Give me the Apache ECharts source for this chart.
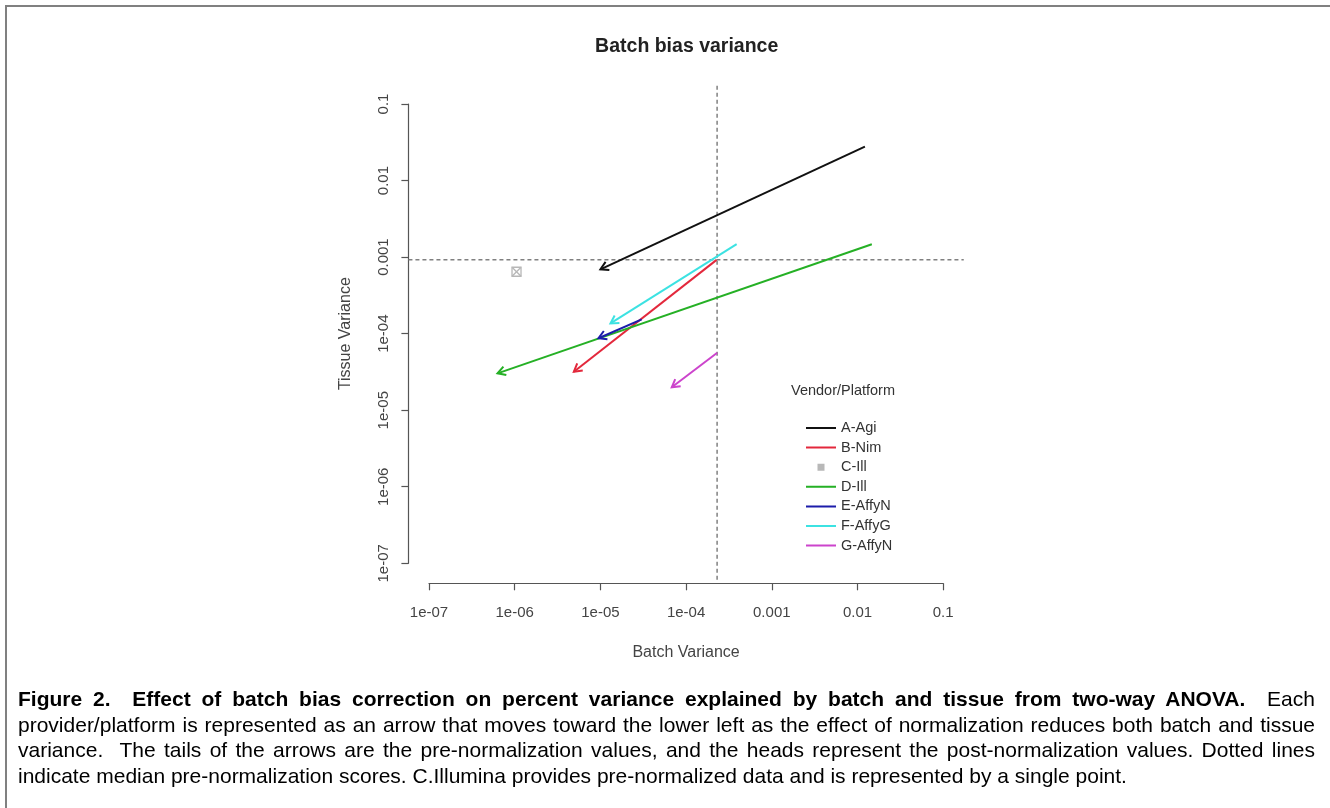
<!DOCTYPE html>
<html>
<head>
<meta charset="utf-8">
<title>Batch bias variance</title>
<script src="https://cdn.jsdelivr.net/npm/echarts@6/dist/echarts.min.js"></script>
<style>
  html, body { margin: 0; padding: 0; background: #fff; overflow: hidden; }
  #frame { position: absolute; left: 5px; top: 5px; width: 1325px; height: 803px; border-top: 2px solid #808080; border-left: 2px solid #808080; box-sizing: border-box; }
  #chart { position: absolute; left: 0; top: 0; width: 1330px; height: 808px; }
  #caption { position: absolute; left: 18px; top: 686px; width: 1297px; font: 21px/25.5px 'Liberation Sans', Arial, sans-serif; color: #000; text-align: justify; }
</style>
</head>
<body>
<div id="frame"></div>
<div id="chart"></div>
<div id="caption"><b>Figure 2.&nbsp; Effect of batch bias correction on percent variance explained by batch and tissue from two-way ANOVA.</b>&nbsp; Each provider/platform is represented as an arrow that moves toward the lower left as the effect of normalization reduces both batch and tissue variance.&nbsp; The tails of the arrows are the pre-normalization values, and the heads represent the post-normalization values. Dotted lines indicate median pre-normalization scores. C.Illumina provides pre-normalized data and is represented by a single point.</div>
<script>
const platforms = ['A-Agi', 'B-Nim', 'C-Ill', 'D-Ill', 'E-AffyN', 'F-AffyG', 'G-AffyN'];
// tails: pre-normalization, heads: post-normalization (C-Ill has only one point)
const batchPre = [0.0122, 2.27e-4, 1.05e-6, 0.0147, 3.03e-5, 3.89e-4, 2.31e-4];
const tissuePre = [0.0277, 9.2e-4, 6.44e-4, 1.47e-3, 1.54e-4, 1.48e-3, 5.64e-5];
const batchPost = [1.0e-5, 4.9e-6, null, 6.3e-7, 9.5e-6, 1.31e-5, 6.8e-5];
const tissuePost = [6.93e-4, 3.18e-5, null, 3.03e-5, 8.7e-5, 1.36e-4, 1.99e-5];
const medianBatch = 2.3e-4;
const medianTissue = 9.2e-4;
const tickLabels = ['1e-07', '1e-06', '1e-05', '1e-04', '0.001', '0.01', '0.1'];

const colors = ['#111111', '#e3283c', '#b8b8b8', '#25b025', '#1c1caa', '#3ce2e2', '#cc44cc'];
const font = "'Liberation Sans', Arial, sans-serif";

// plot box of the ticked range, and R's 4% extended plot region
const box = { left: 429, top: 104, width: 514.2, height: 459.3 };
const padX = box.width * 0.04, padY = box.height * 0.04;

function fmt(v) {
  return tickLabels[Math.round(Math.log10(v)) + 7];
}

function renderArrow(params, api) {
  const color = api.visual('color');
  const p0 = api.coord([api.value(0), api.value(1)]);
  const p1 = api.coord([api.value(2), api.value(3)]);
  const a = Math.atan2(p1[1] - p0[1], p1[0] - p0[0]);
  const len = 9, w = Math.PI / 6;
  const h1 = [p1[0] - len * Math.cos(a - w), p1[1] - len * Math.sin(a - w)];
  const h2 = [p1[0] - len * Math.cos(a + w), p1[1] - len * Math.sin(a + w)];
  return {
    type: 'group',
    children: [
      { type: 'line', shape: { x1: p0[0], y1: p0[1], x2: p1[0], y2: p1[1] }, style: { stroke: color, lineWidth: 2 } },
      { type: 'polyline', shape: { points: [h1, p1, h2] }, style: { stroke: color, lineWidth: 2, fill: null } }
    ]
  };
}

function renderPoint(params, api) {
  const color = api.visual('color');
  const p = api.coord([api.value(0), api.value(1)]);
  const s = 4.5;
  const st = { stroke: color, lineWidth: 1.3, fill: null };
  return {
    type: 'group',
    children: [
      { type: 'rect', shape: { x: p[0] - s, y: p[1] - s, width: 2 * s, height: 2 * s }, style: st },
      { type: 'line', shape: { x1: p[0] - s, y1: p[1] - s, x2: p[0] + s, y2: p[1] + s }, style: st },
      { type: 'line', shape: { x1: p[0] - s, y1: p[1] + s, x2: p[0] + s, y2: p[1] - s }, style: st }
    ]
  };
}

// dotted median lines across the whole plot region
function renderMedian(params, api) {
  const cs = params.coordSys;
  const p = api.coord([api.value(0), api.value(1)]);
  const st = { stroke: '#808080', lineWidth: 1.5, lineDash: [4, 3], fill: null };
  return {
    type: 'group',
    children: [
      { type: 'line', shape: { x1: p[0], y1: cs.y, x2: p[0], y2: cs.y + cs.height }, style: st },
      { type: 'line', shape: { x1: cs.x, y1: p[1], x2: cs.x + cs.width, y2: p[1] }, style: st }
    ]
  };
}

const lineIcon = 'path://M0,0h0.01v0.01z M0,6h30v2h-30z M29.99,14h0.01v-0.01z';
const squareIcon = 'path://M0,0h0.01v0.01z M11.5,3.5h7v7h-7z M29.99,14h0.01v-0.01z';

const arrowSeries = platforms.map((name, i) => {
  const single = batchPost[i] == null;
  return {
    name: name,
    type: 'custom',
    coordinateSystem: 'cartesian2d',
    xAxisIndex: 0,
    yAxisIndex: 0,
    silent: true,
    itemStyle: { color: colors[i] },
    encode: single ? { x: 0, y: 1 } : { x: [0, 2], y: [1, 3] },
    data: single ? [[batchPre[i], tissuePre[i]]] : [[batchPre[i], tissuePre[i], batchPost[i], tissuePost[i]]],
    renderItem: single ? renderPoint : renderArrow
  };
});

const axisLineStyle = { color: '#555', width: 1.2 };
const labelStyle = { fontFamily: font, fontSize: 15, color: '#444' };

const chart = echarts.init(document.getElementById('chart'));
chart.setOption({
  animation: false,
  title: [
    { text: 'Batch bias variance', left: 686.7, top: 37, textAlign: 'center', padding: 0,
      textStyle: { fontFamily: font, fontSize: 19.5, fontWeight: 'bold', color: '#222' } },
    { text: 'Vendor/Platform', left: 843, top: 383, textAlign: 'center', padding: 0,
      textStyle: { fontFamily: font, fontSize: 14.5, fontWeight: 'normal', color: '#333' } }
  ],
  legend: {
    orient: 'vertical', left: 806, top: 420.5, padding: 0,
    itemWidth: 30, itemHeight: 14, itemGap: 4.6, itemTextGap: 13,
    selectedMode: false,
    textStyle: { fontFamily: font, fontSize: 14.5, color: '#333', lineHeight: 14 },
    data: platforms.map((name, i) => ({ name: name, icon: batchPost[i] == null ? squareIcon : lineIcon }))
  },
  grid: [
    { left: box.left, top: box.top, width: box.width, height: box.height },
    { left: box.left - padX, top: box.top - padY, width: box.width + 2 * padX, height: box.height + 2 * padY }
  ],
  xAxis: [
    { gridIndex: 0, type: 'log', logBase: 10, min: 1e-7, max: 0.1, offset: 20,
      axisLine: { lineStyle: axisLineStyle },
      axisTick: { length: 7, lineStyle: axisLineStyle },
      axisLabel: Object.assign({ margin: 22, formatter: fmt }, labelStyle),
      splitLine: { show: false },
      name: 'Batch Variance', nameLocation: 'middle', nameGap: 61,
      nameTextStyle: { fontFamily: font, fontSize: 16, color: '#444' } },
    { gridIndex: 1, type: 'log', logBase: 10, min: Math.pow(10, -7.24), max: Math.pow(10, -0.76), show: false }
  ],
  yAxis: [
    { gridIndex: 0, type: 'log', logBase: 10, min: 1e-7, max: 0.1, offset: 20.6,
      axisLine: { lineStyle: axisLineStyle },
      axisTick: { length: 7, lineStyle: axisLineStyle },
      axisLabel: Object.assign({ margin: 17, rotate: 90, formatter: fmt }, labelStyle),
      splitLine: { show: false },
      name: 'Tissue Variance', nameLocation: 'middle', nameGap: 55,
      nameTextStyle: { fontFamily: font, fontSize: 16, color: '#444' } },
    { gridIndex: 1, type: 'log', logBase: 10, min: Math.pow(10, -7.24), max: Math.pow(10, -0.76), show: false }
  ],
  series: [
    {
      name: 'median', type: 'custom', coordinateSystem: 'cartesian2d',
      xAxisIndex: 1, yAxisIndex: 1, silent: true,
      encode: { x: 0, y: 1 },
      data: [[medianBatch, medianTissue]],
      renderItem: renderMedian
    }
  ].concat(arrowSeries)
});
</script>
</body>
</html>
